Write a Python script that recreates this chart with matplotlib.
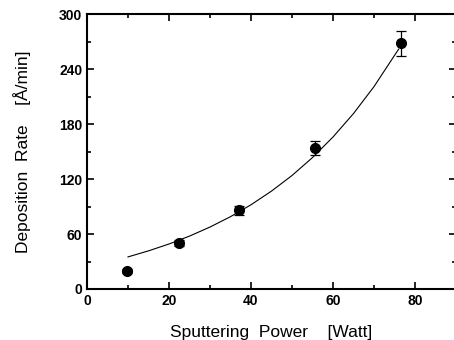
import matplotlib.pyplot as plt
from matplotlib.ticker import MultipleLocator

plt.rcParams['font.family'] = ['Liberation Sans', 'DejaVu Sans']

# measured deposition rates
power = [9.8, 22.5, 37.0, 55.5, 76.7]
rate = [20, 50, 86, 154, 268]
rate_err = [2, 3, 5, 8, 14]

# fitted curve
fit_power = [10, 15, 20, 25, 30, 35, 40, 45, 50, 55, 60, 65, 70, 76]
fit_rate = [35.0, 41.6, 49.1, 57.7, 67.6, 78.9, 91.9, 106.8, 123.8, 143.4,
             165.8, 191.4, 220.8, 261.6]

fig = plt.figure(figsize=(4.54, 3.4), dpi=100)
ax = fig.add_axes([0.1916, 0.15, 0.8128, 0.8088])

ax.plot(fit_power, fit_rate, color='black', lw=0.8)
ax.errorbar(power, rate, yerr=rate_err, fmt='o', color='black', ms=7,
            capsize=3.5, elinewidth=0.9, capthick=0.9)

ax.set_xlim(0, 90)
ax.set_ylim(0, 300)
ax.xaxis.set_major_locator(MultipleLocator(20))
ax.xaxis.set_minor_locator(MultipleLocator(10))
ax.yaxis.set_major_locator(MultipleLocator(60))
ax.yaxis.set_minor_locator(MultipleLocator(30))
ax.tick_params(which='both', direction='in', top=True, right=True,
               width=1.2, labelsize=10)
ax.tick_params(which='major', length=5)
ax.tick_params(which='minor', length=3)
for lbl in ax.get_xticklabels() + ax.get_yticklabels():
    lbl.set_fontweight('bold')
for sp in ax.spines.values():
    sp.set_linewidth(1.5)

ax.set_xlabel('Sputtering  Power    [Watt]', fontsize=12.5, labelpad=12)
ax.set_ylabel('Deposition  Rate    [Å/min]', fontsize=12.5, labelpad=20)

fig.savefig('out.png', dpi=100)
